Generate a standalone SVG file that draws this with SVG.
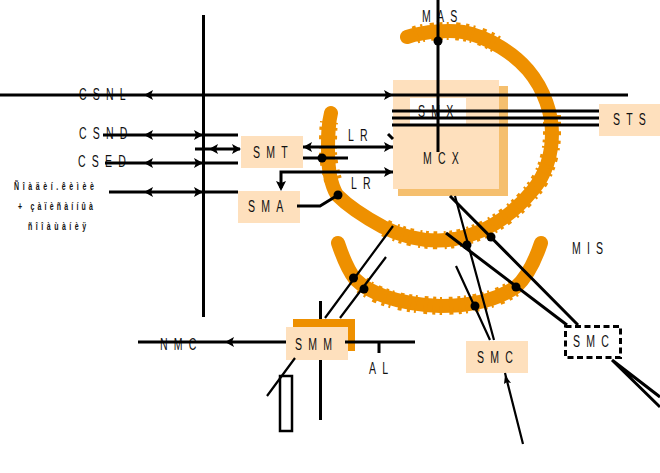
<svg xmlns="http://www.w3.org/2000/svg" width="660" height="473" viewBox="0 0 660 473">
<style>
text{font-family:"Liberation Sans",Arial,sans-serif;fill:#111}
.t{font-size:17px;letter-spacing:10px}
.s{font-size:10px;font-weight:bold}
.r{fill:#fee0bd}
.o{fill:#ee9000}
.b{fill:#f5bf6e}
.ring{fill:none;stroke:#ee9000;stroke-width:14;stroke-linecap:round}
.jag{fill:none;stroke:#ee9000;stroke-width:18;stroke-dasharray:3 4 2 7 4 5}
.l{fill:none;stroke:#000;stroke-width:3}
.m{fill:none;stroke:#000;stroke-width:2.200}
.d{fill:#000}
</style>
<g id="rings">
<path class="ring" d="M407 37C425 31 450 30 463 32C490 37 515 55 528 70C545 90 552 115 552 133C552 155 545 175 533 190C515 212 490 232 455 239C430 243 405 238 383 227C370 220 350 208 337 195C331 185 328 170 328 150C328 135 328 125 331 113"/>
<path class="ring" d="M338 243C343 258 348 270 355 279C368 292 395 304 440 306C475 306 500 298 516 287C528 276 536 258 541 243"/>
<path class="jag" d="M415 35C425 31 450 30 463 32C480 35 492 41 502 48"/>
<path class="jag" d="M552 115C552 120 552 128 552 133C552 155 545 175 533 190C515 212 490 232 455 239C430 243 405 238 383 227"/>
<path class="jag" d="M333 180C330 170 328 160 328 150C328 140 328 130 329 122"/>
<path class="jag" d="M362 285C375 295 395 304 440 306C475 306 500 298 516 287"/>
</g>
<g id="MCX">
<rect class="b" x="398" y="86" width="110" height="110"/>
<rect class="r" x="393" y="80" width="106" height="109"/>
<rect x="410" y="98" width="56" height="26" fill="#fff"/>
<text class="t" transform="translate(423 164) scale(.62 1)">MCX</text>
</g>
<g id="SMX"><text class="t" transform="translate(418 117) scale(.62 1)">SMX</text></g>
<g id="SMT"><rect class="r" x="241" y="136" width="62" height="32"/><text class="t" transform="translate(253 158) scale(.62 1)">SMT</text></g>
<g id="SMA"><rect class="r" x="238" y="191" width="62" height="32"/><text class="t" transform="translate(248 212) scale(.62 1)">SMA</text></g>
<g id="STS"><rect class="r" x="599" y="104" width="61" height="32"/><text class="t" transform="translate(613 125) scale(.62 1)">STS</text></g>
<g id="SMM"><rect class="o" x="293" y="319" width="62" height="32"/><rect class="r" x="286" y="327" width="62" height="33"/><text class="t" transform="translate(295 350) scale(.62 1)">SMM</text></g>
<g id="SMC1"><rect class="r" x="466" y="341" width="62" height="32"/><text class="t" transform="translate(477 363) scale(.62 1)">SMC</text></g>
<g id="SMC2"><rect x="565.500" y="326.500" width="55" height="31" fill="#fff" stroke="#000" stroke-width="3" stroke-dasharray="6 3.500"/><text class="t" transform="translate(573 347) scale(.62 1)">SMC</text></g>
<g id="box"><rect x="280" y="376" width="12" height="55" fill="#fff" stroke="#000" stroke-width="2.500"/></g>
<g id="labels">
<text class="t" transform="translate(79 100) scale(.62 1)">CSNL</text>
<text class="t" transform="translate(79 139) scale(.62 1)">CSND</text>
<text class="t" transform="translate(78 167) scale(.62 1)">CSED</text>
<text class="t" transform="translate(160 350) scale(.62 1)">NMC</text>
<text class="t" transform="translate(348 141) scale(.62 1)">LR</text>
<text class="t" transform="translate(351 189) scale(.62 1)">LR</text>
<text class="t" transform="translate(422 22) scale(.62 1)">MAS</text>
<text class="t" transform="translate(369 374) scale(.62 1)">AL</text>
<text class="t" transform="translate(572 254) scale(.62 1)">MIS</text>
<text class="s" transform="translate(14 190) scale(.7 1)" textLength="114">Ñîàäèí.êèìèè</text>
<text class="s" transform="translate(18 210) scale(.7 1)" textLength="107">+ çàïèñàííûà</text>
<text class="s" transform="translate(28 230) scale(.7 1)" textLength="83">ñîîàùàíèÿ</text>
</g>
<g id="connectors">
<path class="l" d="M0 95H628"/>
<path class="l" d="M203.500 15V317"/>
<path class="l" d="M103 135H238M105 163H238M109 192H238M195 149H240"/>
<path class="l" d="M303 147H393M303 158H348M393 172H281V188"/>
<path class="l" d="M297 206H320L338 195"/>
<path class="l" d="M392 111H599M392 118H599M392 125H599"/>
<path class="l" d="M438 0V152"/>
<path class="l" d="M388 134L393 139"/>
<path class="l" d="M138 342H286M345 342H415M379 342V353"/>
<path class="l" d="M320.500 301V319M320.500 360V420"/>
<path class="m" d="M267 396L295 358M325 318L393 226M340 318L386 257"/>
<path class="l" d="M450 196L578 325M446 233L567 325"/>
<path class="m" d="M455 196L494 340M456 266L490 340M505 373L523 444"/>
<path class="l" d="M612 360L660 407M612 360L660 397"/>
<g fill="#000">
<path d="M144 95l9-5-2 5 2 5zM144 135l9-5-2 5 2 5zM144 163l9-5-2 5 2 5zM144 192l9-5-2 5 2 5zM209 149l9-5-2 5 2 5zM303 147l9-5-2 5 2 5z"/>
<path d="M203 135l-9-5 2 5-2 5zM203 163l-9-5 2 5-2 5zM203 192l-9-5 2 5-2 5zM241 149l-9-5 2 5-2 5zM393 95l-9-5 2 5-2 5zM393 147l-9-5 2 5-2 5zM393 172l-9-5 2 5-2 5z"/>
<path d="M225 342l9-5-2 5 2 5zM281 191l-5-10 5 2 5-2zM505 375l-1 9 3-2 4 1z"/>
</g>
<circle class="d" cx="322" cy="158" r="4.500"/><circle class="d" cx="338" cy="195" r="4.500"/><circle class="d" cx="438" cy="41" r="4.500"/><circle class="d" cx="353.500" cy="278" r="4.500"/><circle class="d" cx="364" cy="289" r="4.500"/><circle class="d" cx="491" cy="237" r="4.500"/><circle class="d" cx="467" cy="245" r="4.500"/><circle class="d" cx="516" cy="287" r="4.500"/><circle class="d" cx="475" cy="306" r="4.500"/>
</g>
</svg>
